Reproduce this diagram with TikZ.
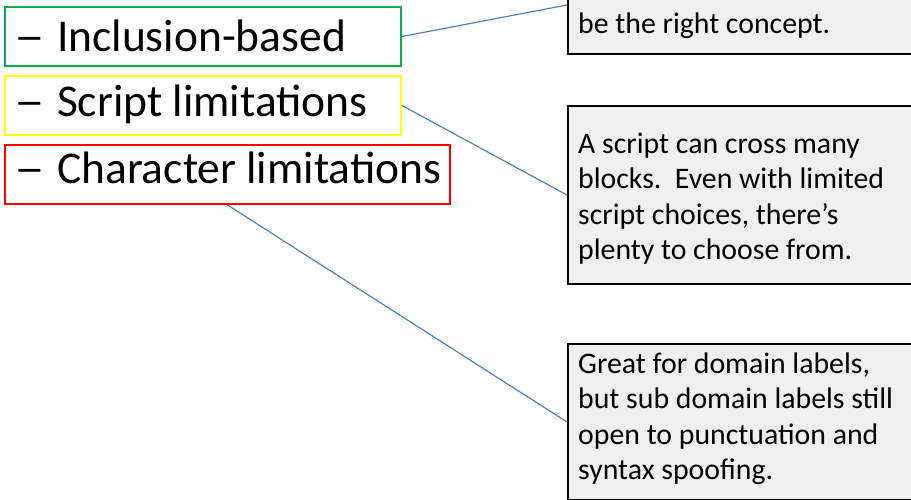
\documentclass[tikz,border=0pt]{standalone}
\usepackage{fontspec}
\setmainfont{Carlito}
\definecolor{cgreen}{RGB}{0,176,80}
\definecolor{cyellow}{RGB}{255,255,0}
\definecolor{cred}{RGB}{255,0,0}
\definecolor{cline}{RGB}{79,129,189}
\definecolor{cfill}{RGB}{240,240,240}
\tikzset{
  tag/.style={draw, line width=2pt, rectangle, inner sep=0pt, anchor=north west},
  tagtext/.style={anchor=base west, inner sep=0pt, font=\fontsize{45.5}{54}\selectfont},
  callout/.style={draw=black, fill=cfill, line width=2pt, rectangle, inner sep=0pt},
  callouttext/.style={anchor=base west, inner sep=0pt, align=left, font=\fontsize{29.8}{35.5}\selectfont},
  link/.style={draw=cline, line width=1.2pt}
}
\newcommand{\dashlead}{\scalebox{1.35}[1]{–}\hspace{2pt} }
\begin{document}
\begin{tikzpicture}[x=1pt,y=-1pt]
\useasboundingbox (0,0) rectangle (911,499);
% left tags
\node[tag, draw=cgreen, minimum width=396pt, minimum height=59pt] (gbox) at (4,6) {};
\node[tag, draw=cyellow, minimum width=396pt, minimum height=59pt] (ybox) at (4,75) {};
\node[tag, draw=cred, minimum width=445pt, minimum height=59pt] (rbox) at (4,144) {};
\node[tagtext] (gtext) at (14,51) {\dashlead Inclusion-based};
\node[tagtext] (ytext) at (14,116) {\dashlead Script limitations};
\node[tagtext] (rtext) at (14,183) {\dashlead Character limitations};
% callouts
\node[callout, anchor=south west, minimum width=360pt, minimum height=98pt] (tbox) at (567,55) {};
\node[callout, anchor=north west, minimum width=360pt, minimum height=178pt] (mbox) at (567,105) {};
\node[callout, anchor=north west, minimum width=360pt, minimum height=156pt] (bbox) at (567,343) {};
\node[callouttext] (ttext) at (578,33) {be the right concept.};
\node[callouttext] (mtext) at (578,259.5) {A script can cross many\\blocks.\ \ Even with limited\\script choices, there’s\\plenty to choose from.};
\node[callouttext] (btext) at (578,479.5) {Great for domain labels,\\but sub domain labels still\\open to punctuation and\\syntax spoofing.};
% connectors
\draw[link] (gbox.east) -- (tbox.west);
\draw[link] (ybox.east) -- (mbox.west);
\draw[link] (rbox.south) -- (bbox.west);
\end{tikzpicture}
\end{document}
